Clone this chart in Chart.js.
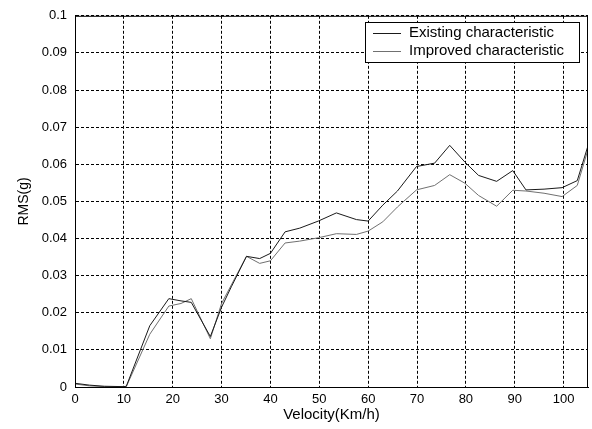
<!DOCTYPE html>
<html>
<head>
<meta charset="utf-8">
<script src="https://cdn.jsdelivr.net/npm/chart.js@4"></script>
<style>
  html, body { margin: 0; padding: 0; background: #fff; }
  #rms { display: block; }
</style>
</head>
<body>
<canvas id="rms" width="592" height="429"></canvas>
<script>
// data
const velocity = [0, 3, 6, 10, 10.5, 15.3, 19.2, 21.7, 23.8, 27.7, 30, 32, 35.1, 37.8, 40, 43, 46, 49.8, 53.5, 57.6, 60, 63, 66, 69.9, 73.6, 76.7, 79.8, 82.6, 86.3, 89.6, 92.3, 96, 99.7, 102.8, 105];
const existing = [0.001, 0.0005, 0.0002, 0.0001, 0.0002, 0.0165, 0.0238, 0.0232, 0.0228, 0.0136, 0.0215, 0.027, 0.0352, 0.0346, 0.036, 0.0418, 0.0428, 0.0447, 0.0469, 0.0451, 0.0447, 0.049, 0.0528, 0.0594, 0.0603, 0.0651, 0.0606, 0.057, 0.0554, 0.0583, 0.0531, 0.0533, 0.0537, 0.0556, 0.065];
const improved = [0.0008, 0.0003, 0.0001, 0, 0.0001, 0.0142, 0.0218, 0.0225, 0.0238, 0.013, 0.0225, 0.0275, 0.0352, 0.0333, 0.034, 0.0388, 0.0393, 0.0402, 0.0413, 0.0411, 0.042, 0.0445, 0.0485, 0.0531, 0.0543, 0.0572, 0.0549, 0.0516, 0.0487, 0.053, 0.0528, 0.0522, 0.0513, 0.0543, 0.064];
const seriesNames = ['Existing characteristic', 'Improved characteristic'];
const seriesColors = ['#1a1a1a', '#707070'];

const xTicks = [0, 10, 20, 30, 40, 50, 60, 70, 80, 90, 100];

const toPoints = ys => velocity.map((v, i) => ({x: v, y: ys[i]}));

// box round the plot + legend inside, matlab style
const framePlugin = {
    id: 'frame',
    afterDraw(chart) {
        const {ctx, chartArea: a} = chart;
        ctx.save();
        ctx.strokeStyle = '#000';
        ctx.lineWidth = 1;
        ctx.strokeRect(a.left + 0.5, a.top + 0.5, a.right - a.left - 1, a.bottom - a.top);

        // legend
        const bx = 365, by = 22, bw = 214, bh = 40;
        ctx.fillStyle = '#fff';
        ctx.fillRect(bx, by, bw, bh);
        ctx.strokeRect(bx + 0.5, by + 0.5, bw, bh);
        ctx.font = '15px "Liberation Sans", Arial, sans-serif';
        ctx.textBaseline = 'middle';
        chart.data.datasets.forEach((ds, i) => {
            const y = by + 11 + i * 18;
            ctx.strokeStyle = ds.borderColor;
            ctx.beginPath();
            ctx.moveTo(bx + 8, y + 0.5);
            ctx.lineTo(bx + 36, y + 0.5);
            ctx.stroke();
            ctx.fillStyle = '#000';
            ctx.fillText(ds.label, bx + 44, y);
        });
        ctx.restore();
    }
};

const ctx = document.getElementById('rms').getContext('2d');
const rmsChart = new Chart(ctx, {
    type: 'line',
    data: {
        datasets: [{
            label: seriesNames[0],
            data: toPoints(existing),
            borderColor: seriesColors[0],
            borderWidth: 1
        }, {
            label: seriesNames[1],
            data: toPoints(improved),
            borderColor: seriesColors[1],
            borderWidth: 1
        }]
    },
    options: {
        responsive: false,
        animation: false,
        devicePixelRatio: 1,
        layout: { padding: { top: 15, right: 4, left: 0, bottom: 0 } },
        elements: {
            point: { radius: 0 },
            line: { tension: 0 }
        },
        plugins: {
            legend: { display: false },
            tooltip: { enabled: false }
        },
        scales: {
            x: {
                type: 'linear',
                min: 0,
                max: 105,
                afterBuildTicks: s => { s.ticks = xTicks.map(v => ({value: v})); },
                afterFit: s => { s.height = 42; },
                ticks: {
                    color: '#000',
                    font: { family: '"Liberation Sans", Arial, sans-serif', size: 13 },
                    padding: 5,
                    maxRotation: 0
                },
                grid: { color: '#000', lineWidth: 1, drawTicks: false },
                border: { color: '#000', dash: [3, 2] },
                title: {
                    display: true,
                    text: 'Velocity(Km/h)',
                    color: '#000',
                    font: { family: '"Liberation Sans", Arial, sans-serif', size: 15 },
                    padding: { top: 5, bottom: 5 }
                }
            },
            y: {
                min: 0,
                max: 0.1,
                afterFit: s => { s.width = 75; },
                ticks: {
                    stepSize: 0.01,
                    color: '#000',
                    font: { family: '"Liberation Sans", Arial, sans-serif', size: 13 },
                    padding: 8,
                    callback: v => String(parseFloat(v.toFixed(3)))
                },
                grid: { color: '#000', lineWidth: 1, drawTicks: false },
                border: { color: '#000', dash: [3, 2] },
                title: {
                    display: true,
                    text: 'RMS(g)',
                    color: '#000',
                    font: { family: '"Liberation Sans", Arial, sans-serif', size: 14 },
                    padding: { top: 16, bottom: 16 }
                }
            }
        }
    },
    plugins: [framePlugin]
});
</script>
</body>
</html>
